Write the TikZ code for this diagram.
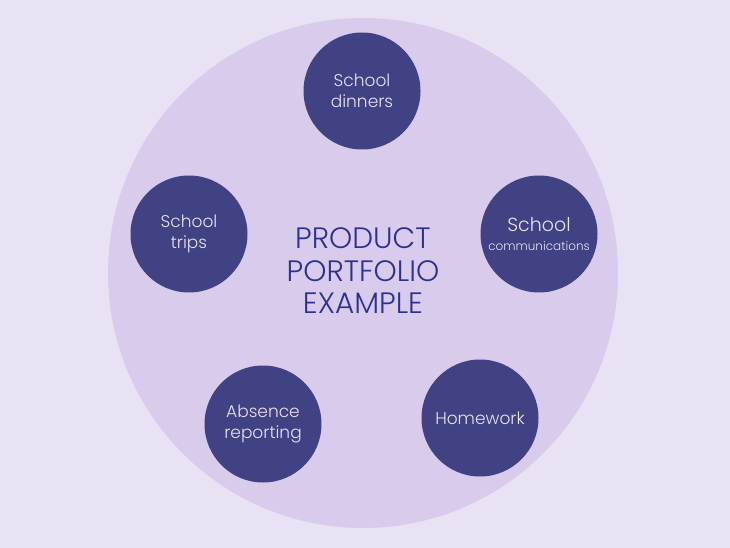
\documentclass[tikz,border=0pt]{standalone}
\usepackage{fontspec}
\setmainfont{Poppins}[UprightFont=* Light]
\usepackage{xcolor}
\usepackage{tikz}
\usetikzlibrary{positioning,calc}

\definecolor{pageback}{HTML}{E9E1F4}
\definecolor{bigdisc}{HTML}{D9CBEC}
\definecolor{areadisc}{HTML}{404283}
\definecolor{titleblue}{HTML}{2E3190}

\tikzset{
  area/.style={circle,fill=areadisc,minimum size=117pt,inner sep=0pt,
    text=pageback,align=center,font=\fontsize{17}{21.5}\selectfont},
  title/.style={text=titleblue,align=center,font=\fontsize{29.5}{32.5}\selectfont}
}

\begin{document}
\begin{tikzpicture}[x=1pt,y=-1pt]
    % Canvas
    \fill[pageback] (0,0) rectangle (730,548);
    \useasboundingbox (0,0) rectangle (730,548);
    % Big disc
    \fill[bigdisc] (363,273) circle (255);
    % Title
    \node[title] (centre) at (363,271) {PRODUCT\\PORTFOLIO\\EXAMPLE};
    % Product areas
    \node[area] (dinners) at (362,91) {School\\dinners};
    \node[area] (comms) at (539,234) {{\fontsize{19}{19}\selectfont School}\\[-2pt]{\fontsize{12}{14}\selectfont communications}};
    \node[area] (trips) at (189,234) {School\\trips};
    \node[area] (absence) at (263,424) {Absence\\reporting};
    \node[area] (homework) at (480,418) {Homework};
  \end{tikzpicture}
\end{document}
